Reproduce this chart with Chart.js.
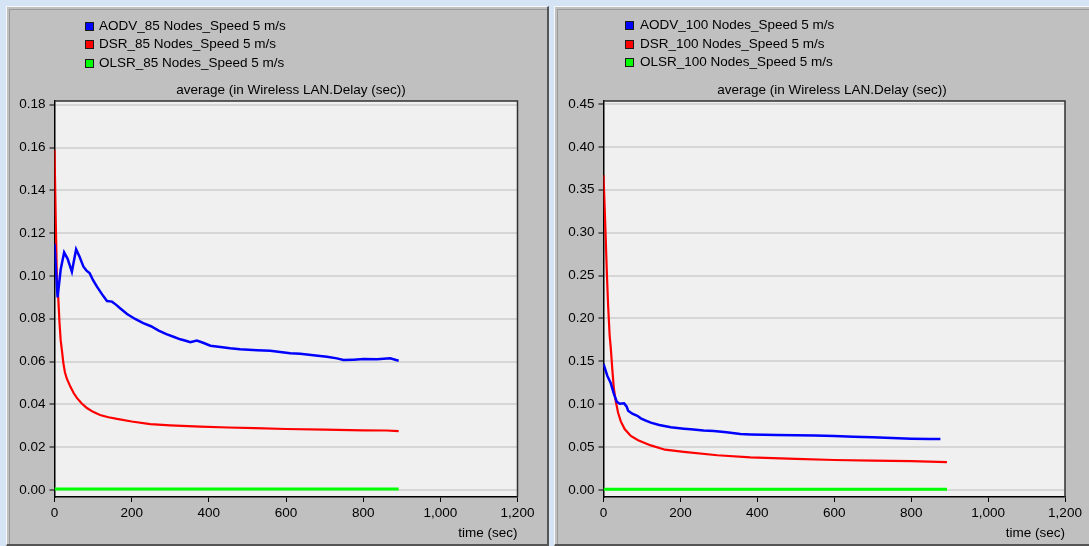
<!DOCTYPE html>
<html><head><meta charset="utf-8">
<script src="https://cdn.jsdelivr.net/npm/chart.js@4/dist/chart.umd.min.js"></script>
<style>
html,body{margin:0;padding:0;}
body{width:1089px;height:546px;overflow:hidden;position:relative;background:#d5e4f5;font-family:"Liberation Sans",Arial,sans-serif;}
.panel{position:absolute;background:#c0c0c0;box-sizing:border-box;border-top:1px solid #f6f8fb;border-left:1px solid #f6f8fb;border-right:2px solid #555;border-bottom:2px solid #555;box-shadow:inset 2px 2px 0 #c0c0c0, inset 3px 3px 0 #9a9a9a;}
#p1{left:6px;top:6px;width:543px;height:540px;}
#p2{left:554px;top:6px;width:545px;height:540px;}
canvas{position:absolute;}
.leg{position:absolute;font-size:13.5px;color:#000;white-space:nowrap;line-height:16px;height:16px;}
.box{position:absolute;width:7px;height:7px;border:1px solid #1a1a1a;}
.ttl{position:absolute;font-size:13.5px;color:#000;white-space:nowrap;line-height:16px;transform:translateX(-50%);}
</style>
</head><body>
<div class="panel" id="p1"></div>
<div class="panel" id="p2"></div>
<canvas id="c1" width="540" height="538" style="left:8px;top:8px;width:540px;height:538px"></canvas>
<canvas id="c2" width="532" height="538" style="left:557px;top:8px;width:532px;height:538px"></canvas>
<script>
// ---- data ----
const chartTitle = 'average (in Wireless LAN.Delay (sec))';
const xAxisTitle = 'time (sec)';
const timeTicks = [0, 200, 400, 600, 800, 1000, 1200];
const timeTickLabels = ['0', '200', '400', '600', '800', '1,000', '1,200'];
const delayTicks85 = ['0.00', '0.02', '0.04', '0.06', '0.08', '0.10', '0.12', '0.14', '0.16', '0.18'];
const delayTicks100 = ['0.00', '0.05', '0.10', '0.15', '0.20', '0.25', '0.30', '0.35', '0.40', '0.45'];

const seriesNames85 = ['AODV_85 Nodes_Speed 5 m/s', 'DSR_85 Nodes_Speed 5 m/s', 'OLSR_85 Nodes_Speed 5 m/s'];
const seriesNames100 = ['AODV_100 Nodes_Speed 5 m/s', 'DSR_100 Nodes_Speed 5 m/s', 'OLSR_100 Nodes_Speed 5 m/s'];

const aodv85Time = [0, 8, 16, 25, 34, 45, 56, 65, 75, 83, 91, 100, 110, 123, 136, 149, 160, 170, 188, 209, 230, 250, 270, 290, 310, 326, 340, 352, 369, 385, 404, 430, 455, 481, 525, 559, 585, 611, 637, 671, 706, 732, 749, 775, 801, 836, 870, 892];
const aodv85Delay = [0.115, 0.090, 0.103, 0.111, 0.108, 0.102, 0.1125, 0.109, 0.1043, 0.1025, 0.1013, 0.098, 0.095, 0.0915, 0.0883, 0.088, 0.0865, 0.0849, 0.0822, 0.0799, 0.078, 0.0765, 0.0745, 0.0728, 0.0715, 0.0704, 0.0697, 0.0690, 0.0698, 0.0688, 0.0674, 0.0668, 0.0662, 0.0657, 0.0653, 0.0651, 0.0645, 0.0639, 0.0636, 0.0629, 0.0623, 0.0615, 0.0607, 0.0609, 0.0612, 0.0611, 0.0615, 0.0604];

const dsr85Time = [0, 3, 6, 10, 13, 16, 20, 23, 27, 32, 41, 50, 58, 70, 84, 100, 118, 140, 162, 200, 248, 300, 378, 450, 520, 600, 700, 800, 860, 892];
const dsr85Delay = [0.159, 0.128, 0.100, 0.0888, 0.078, 0.070, 0.064, 0.0593, 0.055, 0.052, 0.0483, 0.0452, 0.043, 0.0405, 0.0383, 0.0365, 0.035, 0.034, 0.0332, 0.032, 0.0308, 0.0302, 0.0296, 0.0292, 0.0289, 0.0285, 0.0282, 0.0279, 0.0278, 0.0275];

const olsr85Time = [0, 100, 200, 300, 400, 500, 600, 700, 800, 892];
const olsr85Delay = [0.0005, 0.0005, 0.0005, 0.0005, 0.0005, 0.0005, 0.0005, 0.0005, 0.0005, 0.0005];

const aodv100Time = [0, 10, 19, 27, 34.5, 42, 53.5, 60, 64, 75, 88, 97, 110, 123, 145, 175, 209, 227, 260, 287, 320, 356, 382, 450, 500, 550, 600, 650, 700, 750, 800, 850, 876];
const aodv100Delay = [0.147, 0.133, 0.1244, 0.112, 0.103, 0.1005, 0.101, 0.0975, 0.0925, 0.089, 0.0865, 0.0836, 0.081, 0.0785, 0.0758, 0.0731, 0.0715, 0.0708, 0.0695, 0.0688, 0.0672, 0.0652, 0.0648, 0.0642, 0.0638, 0.0634, 0.063, 0.0622, 0.0614, 0.0606, 0.0598, 0.0594, 0.0594];

const dsr100Time = [0, 3, 6, 9, 12, 16, 19, 23, 27, 32, 38, 45, 55, 71, 90, 123, 160, 209, 296, 382, 500, 600, 700, 800, 893];
const dsr100Delay = [0.367, 0.33, 0.29, 0.25, 0.215, 0.18, 0.165, 0.14, 0.118, 0.103, 0.09, 0.08, 0.071, 0.063, 0.058, 0.052, 0.047, 0.0445, 0.0405, 0.038, 0.0362, 0.035, 0.0343, 0.0336, 0.0326];

const olsr100Time = [0, 100, 200, 300, 400, 500, 600, 700, 800, 893];
const olsr100Delay = [0.0008, 0.0008, 0.0008, 0.0008, 0.0008, 0.0008, 0.0008, 0.0008, 0.0008, 0.0008];

const seriesColors = ['#0000ff', '#ff0000', '#00ff00'];
const seriesWidths = [2.5, 2.2, 3];

// ---- build ----
Chart.defaults.font.family = '"Liberation Sans", Arial, sans-serif';
Chart.defaults.font.size = 13.5;
Chart.defaults.color = '#000';

function pts(t, v) { return t.map((x, i) => ({ x: x, y: v[i] })); }

const framePlugin = {
  id: 'frame',
  beforeDraw(c) {
    const a = c.chartArea, g = c.ctx;
    g.save(); g.fillStyle = '#f0f0f0'; g.fillRect(a.left, a.top, a.right - a.left, a.bottom - a.top); g.restore();
  },
  afterDraw(c) {
    const a = c.chartArea, g = c.ctx;
    g.save(); g.strokeStyle = '#303030'; g.lineWidth = 1.5;
    g.beginPath(); g.moveTo(a.left, a.top); g.lineTo(a.right, a.top); g.lineTo(a.right, a.bottom); g.stroke();
    g.restore();
  }
};

function makeChart(id, names, series, yTickLabels, yMin, yMax, padRight) {
  const yVals = yTickLabels.map(parseFloat);
  return new Chart(document.getElementById(id), {
    type: 'line',
    data: {
      datasets: series.map((s, i) => ({
        label: names[i], data: pts(s[0], s[1]),
        borderColor: seriesColors[i], backgroundColor: seriesColors[i],
        borderWidth: seriesWidths[i], pointRadius: 0, tension: 0, fill: false
      }))
    },
    options: {
      responsive: false, animation: false, devicePixelRatio: 1,
      layout: { padding: { left: 0, top: 93, right: padRight, bottom: 5 } },
      plugins: { legend: { display: false }, title: { display: false }, tooltip: { enabled: false } },
      scales: {
        x: {
          type: 'linear', min: 0, max: 1200,
          afterBuildTicks: s => { s.ticks = timeTicks.map(v => ({ value: v })); },
          afterFit: s => { s.height = 44; },
          ticks: { callback: (v) => timeTickLabels[timeTicks.indexOf(v)], padding: 3, maxRotation: 0, color: '#000' },
          grid: { drawOnChartArea: false, drawTicks: true, tickLength: 5, tickColor: '#000', tickWidth: 1 },
          border: { color: '#000', width: 1.5 },
          title: { display: true, text: xAxisTitle, align: 'end', padding: { top: 0, bottom: 0 }, color: '#000', font: { size: 13.5 } }
        },
        y: {
          type: 'linear', min: yMin, max: yMax,
          afterBuildTicks: s => { s.ticks = yVals.map(v => ({ value: v })); },
          afterFit: s => { s.width = 46.5; },
          ticks: { callback: (v) => yTickLabels[yVals.indexOf(v)], padding: 4, color: '#000' },
          grid: { color: '#d6d6d6', lineWidth: 2, drawTicks: true, tickLength: 5, tickColor: '#000', tickWidth: 1 },
          border: { color: '#000', width: 1.5 }
        }
      }
    },
    plugins: [framePlugin]
  });
}

makeChart('c1', seriesNames85,
  [[aodv85Time, aodv85Delay], [dsr85Time, dsr85Delay], [olsr85Time, olsr85Delay]],
  delayTicks85, -0.00327, 0.18173, 30.5);
makeChart('c2', seriesNames100,
  [[aodv100Time, aodv100Delay], [dsr100Time, dsr100Delay], [olsr100Time, olsr100Delay]],
  delayTicks100, -0.00816, 0.4535, 24);

// legends + titles (real text)
function addLegend(names, boxX, textX, rowYs) {
  names.forEach((n, i) => {
    const b = document.createElement('div'); b.className = 'box';
    b.style.left = boxX + 'px'; b.style.top = (rowYs[i] - 4.5) + 'px'; b.style.background = seriesColors[i];
    document.body.appendChild(b);
    const t = document.createElement('div'); t.className = 'leg'; t.textContent = n;
    t.style.left = textX + 'px'; t.style.top = (rowYs[i] - 8.5) + 'px';
    document.body.appendChild(t);
  });
}
addLegend(seriesNames85, 85, 99, [26, 44.7, 63.3]);
addLegend(seriesNames100, 625, 640, [25, 44.3, 62.7]);
function addTitle(cx, cy) {
  const t = document.createElement('div'); t.className = 'ttl'; t.textContent = chartTitle;
  t.style.left = cx + 'px'; t.style.top = (cy - 8.5) + 'px'; document.body.appendChild(t);
}
addTitle(291, 90);
addTitle(832, 90);
</script>
</body></html>
